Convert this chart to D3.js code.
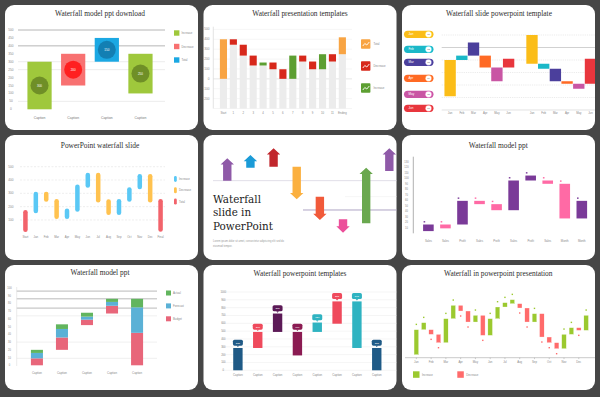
<!DOCTYPE html>
<html>
<head>
<meta charset="utf-8">
<script src="https://cdn.jsdelivr.net/npm/d3@7.9.0/dist/d3.min.js"></script>
<style>
  html, body { margin: 0; padding: 0; background: #464646; }
  svg { display: block; }
</style>
</head>
<body>
<svg id="chart" width="600" height="397" font-family="Liberation Sans, Arial, sans-serif"></svg>
<script>
// ---- data, card 1 : waterfall model ppt download
const c1Cats = ['Caption', 'Caption', 'Caption', 'Caption'];
const c1Low = [0, 150, 300, 100];
const c1High = [300, 350, 450, 350];
const c1Kind = ['up', 'down', 'total', 'up'];
const c1Ticks = [0, 50, 100, 150, 200, 250, 300, 350, 400, 450, 500];
const c1GridDark = [500, 400];
const c1GridLight = [300, 250, 50];
const c1Legend = ['Increase', 'Decrease', 'Total'];

// ---- card 2 : waterfall presentation template
const c2Cats = ['Start', '1', '2', '3', '4', '5', '6', '7', '8', '9', '10', '11', 'Ending'];
const c2Start = [0, 400, 345, 235, 135, 165, 97, 0, 235, 175, 97, 249, 249];
const c2End = [400, 345, 235, 135, 165, 97, 0, 235, 175, 97, 249, 175, 420];
const c2Ticks = [-200, -100, 0, 100, 200, 300, 400, 500];
const c2Legend = ['Total', 'Decrease', 'Increase'];

// ---- card 3 : waterfall slide powerpoint template
const c3Months = ['Jan', 'Feb', 'Mar', 'Apr', 'May', 'Jun'];
const c3Low = [11, 40, 43.5, 34, 23, 34, 37, 33, 23, 21, 17, 21];
const c3High = [40, 43.5, 54, 43.5, 34, 41, 60, 37, 33, 23, 21, 41];
const c3Grid = [10, 20, 30, 40, 50, 60];
const c3Badges = ['08', '12', '15', '09', '05', '11'];

// ---- card 4 : powerpoint waterfall slide
const c4Cats = ['Start', 'Jan', 'Feb', 'Mar', 'Apr', 'May', 'Jun', 'Jul', 'Aug', 'Sep', 'Oct', 'Nov', 'Dec', 'Final'];
const c4Low = [10, 150, 237, 107, 107, 162, 342, 232, 137, 137, 237, 330, 232, 12];
const c4High = [175, 312, 312, 257, 187, 367, 455, 455, 255, 257, 345, 445, 445, 257];
const c4Kind = ['total', 'up', 'down', 'down', 'up', 'up', 'up', 'down', 'down', 'up', 'up', 'up', 'down', 'total'];
const c4Ticks = [100, 200, 300, 400, 500];
const c4Legend = ['Increase', 'Decrease', 'Total'];

// ---- card 5 : arrows
const c5Start = [0, 39, 42, 42, -48, -116, -128, 29];
const c5End = [67, 77, 97, -56, -118, -156, 39, 97];

// ---- card 6 : waterfall model ppt
const c6Cats = ['Sales', 'Sales', 'Profit', 'Sales', 'Profit', 'Sales', 'Profit', 'Sales', 'Month', 'Month'];
const c6Low = [4, 9, 16, 53, 42, 42, 96, 90, 27, 27];
const c6High = [16, 16, 59, 59, 53, 96, 105, 96, 90, 59];
const c6Kind = ['a', 'b', 'a', 'b', 'b', 'a', 'a', 'b', 'b', 'a'];
const c6Ticks = [10, 20, 30, 40, 50, 60, 70, 80, 90, 100, 110, 120, 130];

// ---- card 7 : waterfall model ppt (stacked)
const c7Cats = ['Caption', 'Caption', 'Caption', 'Caption', 'Caption'];
const c7Base = [0, 20, 52, 67, 0];
const c7Red = [9, 16, 7, 10, 42];
const c7Blue = [7, 11, 4, 5, 33];
const c7Green = [4, 6, 5, 4, 11];
const c7Ticks = [0, 10, 20, 30, 40, 50, 60, 70, 80, 90, 100];
const c7GuideDark = [96, 86, 74];
const c7GuideLight = [64, 30, 9];
const c7Legend = ['Actual', 'Forecast', 'Budget'];

// ---- card 8 : waterfall powerpoint templates
const c8Cats = ['Caption', 'Caption', 'Caption', 'Caption', 'Caption', 'Caption', 'Caption', 'Caption'];
const c8Low = [0, 285, 490, 190, 490, 595, 285, 0];
const c8High = [285, 490, 725, 490, 610, 880, 880, 285];
const c8Ticks = [0, 100, 200, 300, 400, 500, 600, 700, 800, 900, 1000];

// ---- card 9 : waterfall in powerpoint presentation
const c9Start = [9, 84, 84, 70, 45, 117, 157, 140, 107, 127, 67, 117, 152, 162, 162, 149, 107, 132, 62, 45, 27, 70, 90, 82];
const c9End = [84, 105, 70, 45, 117, 157, 140, 107, 127, 67, 117, 152, 165, 174, 149, 107, 132, 62, 45, 27, 70, 90, 82, 127];
const c9Months = ['Jan', 'Feb', 'Mar', 'Apr', 'May', 'Jun', 'Jul', 'Aug', 'Sep', 'Oct', 'Nov', 'Dec'];
const c9Legend = ['Increase', 'Decrease'];

// ---- palettes
const pal1 = { up: '#9fc83c', down: '#f87171', total: '#1ba8e3' };
const pal1Dot = { up: '#6f8f27', down: '#ff2020', total: '#137fb3' };
const pal2 = { total: '#f8a443', down: '#d7281b', up: '#5d9f32' };
const pal3 = ['#fbbd18', '#1bb8c8', '#4b3f9c', '#ff6a24', '#c956a4', '#e8363d'];
const pal4 = { up: '#5ac8f5', down: '#ffc24f', total: '#f2636b' };
const pal5 = ['#8f5aa8', '#1b9bd7', '#c1272d', '#fbb040', '#f15a3a', '#ec4f9a', '#6aa84f', '#8f5aa8'];
const pal6 = { a: '#7a3a98', b: '#ff6aa5' };
const pal7 = { red: '#e8667a', blue: '#5bb1d6', green: '#62b55e' };
const pal8 = ['#1f5a86', '#ef4a5c', '#5c1a57', '#8b1b52', '#2fb3c1', '#ef4a5c', '#2fb3c1', '#1f5a86'];
const pal9 = { up: '#9bc92f', down: '#ff6b6b' };

const svg = d3.select('#chart');
svg.append('rect').attr('width', 600).attr('height', 397).attr('fill', '#464646');

const cardX = [5, 203.5, 402];
const cardY = [5, 135, 265];
const cardW = 193, cardH = 125;
const serif = '"Liberation Serif", "DejaVu Serif", serif';

function card(col, row, id) {
  const x = cardX[col], y = cardY[row];
  svg.append('clipPath').attr('id', 'clip' + id)
    .append('rect').attr('x', x).attr('y', y).attr('width', cardW).attr('height', cardH).attr('rx', 9);
  svg.append('rect').attr('x', x).attr('y', y).attr('width', cardW).attr('height', cardH)
    .attr('rx', 9).attr('fill', '#fff');
  return svg.append('g').attr('clip-path', `url(#clip${id})`);
}

function title(g, x, y, txt) {
  g.append('text').attr('x', x).attr('y', y).attr('text-anchor', 'middle')
    .attr('font-family', serif).attr('font-size', 7.4)
    .attr('fill', '#2e2e2e').text(txt);
}

function tiny(g, x, y, txt, anchor = 'middle', fill = '#8a8a8a', size = 3.2) {
  g.append('text').attr('x', x).attr('y', y).attr('text-anchor', anchor)
    .attr('font-size', size).attr('fill', fill).text(txt);
}

function hlines(g, vals, y, x1, x2, color, w, dash) {
  g.selectAll(null).data(vals).enter().append('line')
    .attr('x1', x1).attr('x2', x2)
    .attr('y1', d => y(d)).attr('y2', d => y(d))
    .attr('stroke', color).attr('stroke-width', w)
    .attr('stroke-dasharray', dash || null);
}

// ---------------- card 1
{
  const g = card(0, 0, 1);
  title(g, 100, 16.3, 'Waterfall model ppt download');
  const x = d3.scaleBand().domain(d3.range(c1Cats.length)).range([18, 162]).padding(0.28);
  const y = d3.scaleLinear().domain([0, 500]).range([109.3, 30]);
  hlines(g, c1GridLight, y, 18, 165, '#e4e4e4', 0.7);
  hlines(g, c1GridDark, y, 18, 165, '#a3a3a3', 0.8);
  c1Ticks.forEach(t => tiny(g, 11, y(t) + 1, t));
  const bw = x.bandwidth();
  c1Cats.forEach((c, i) => {
    g.append('rect').attr('x', x(i)).attr('y', y(c1High[i])).attr('width', bw)
      .attr('height', y(c1Low[i]) - y(c1High[i])).attr('fill', pal1[c1Kind[i]]);
    const cy = (y(c1Low[i]) + y(c1High[i])) / 2;
    g.append('circle').attr('cx', x(i) + bw / 2).attr('cy', cy).attr('r', 9).attr('fill', pal1Dot[c1Kind[i]]);
    tiny(g, x(i) + bw / 2, cy + 1, c1High[i] - c1Low[i], 'middle', '#fff', 3);
    tiny(g, x(i) + bw / 2, 118.5, c, 'middle', '#777', 3.4);
  });
  c1Legend.forEach((l, i) => {
    const ly = 33 + i * 13.5;
    g.append('rect').attr('x', 174).attr('y', ly - 2.7).attr('width', 5.4).attr('height', 5.4)
      .attr('fill', pal1[['up', 'down', 'total'][i]]);
    tiny(g, 181.5, ly + 1, l, 'start', '#888', 2.8);
  });
}

// ---------------- card 2
{
  const g = card(1, 0, 2);
  title(g, 300, 15.6, 'Waterfall presentation templates');
  const x = d3.scaleBand().domain(d3.range(c2Cats.length)).range([217.1, 348.7]).padding(0.28);
  const y = d3.scaleLinear().domain([-300, 500]).range([108.5, 29.4]);
  hlines(g, c2Ticks, y, 213.3, 352, '#f0f0f0', 0.6);
  hlines(g, [0], y, 213.3, 352, '#e2e2e2', 0.6);
  g.append('line').attr('x1', 213.3).attr('x2', 213.3).attr('y1', 26.7).attr('y2', 108.5)
    .attr('stroke', '#d8d8d8').attr('stroke-width', 0.7);
  g.append('line').attr('x1', 213.3).attr('x2', 352).attr('y1', 108.5).attr('y2', 108.5)
    .attr('stroke', '#eeeeee').attr('stroke-width', 0.6);
  c2Ticks.forEach(t => tiny(g, 209.5, y(t) + 1, t, 'end'));
  const bw = x.bandwidth();
  c2Cats.forEach((c, i) => {
    const lo = Math.min(c2Start[i], c2End[i]), hi = Math.max(c2Start[i], c2End[i]);
    const kind = (i === 0 || i === c2Cats.length - 1) ? 'total' : (c2End[i] > c2Start[i] ? 'up' : 'down');
    g.append('rect').attr('x', x(i)).attr('y', y(lo)).attr('width', bw)
      .attr('height', y(-300) - y(lo)).attr('fill', '#ececec');
    g.append('rect').attr('x', x(i)).attr('y', y(hi)).attr('width', bw)
      .attr('height', y(lo) - y(hi)).attr('fill', pal2[kind]);
    tiny(g, x(i) + bw / 2, 114, c, 'middle', '#888', 2.8);
  });
  c2Legend.forEach((l, i) => {
    const ly = 44 + i * 22;
    const k = ['total', 'down', 'up'][i];
    g.append('rect').attr('x', 361).attr('y', ly - 4.7).attr('width', 9.4).attr('height', 9.4)
      .attr('rx', 0.8).attr('fill', pal2[k]);
    g.append('path').attr('d', `M${362.8},${ly + 2} l2,-2.5 l2,1.5 l2.5,-3`)
      .attr('fill', 'none').attr('stroke', '#fff').attr('stroke-width', 0.9);
    tiny(g, 373.5, ly + 1, l, 'start', '#888', 2.8);
  });
}

// ---------------- card 3
{
  const g = card(2, 0, 3);
  title(g, 499, 15.6, 'Waterfall slide powerpoint template');
  const x = d3.scaleBand().domain(d3.range(13)).range([444.1, 596.5]).padding(0.03);
  const y = d3.scaleLinear().domain([0, 60]).range([110, 35]);
  hlines(g, c3Grid.filter(d => d !== 50), y, 441.7, 595, '#dedede', 0.6, '1.2,1');
  hlines(g, [50], y, 441.7, 595, '#bdbdbd', 0.7);
  hlines(g, [0], y, 441.7, 595, '#d6d6d6', 0.7);
  const bw = x.bandwidth();
  c3Low.forEach((lo, i) => {
    const slot = i < 6 ? i : i + 1;
    g.append('rect').attr('x', x(slot)).attr('y', y(c3High[i])).attr('width', bw)
      .attr('height', y(lo) - y(c3High[i])).attr('fill', pal3[i % 6]);
    tiny(g, x(slot) + bw / 2, 113.5, c3Months[i % 6], 'middle', '#888', 2.8);
  });
  c3Months.forEach((m, i) => {
    const ly = [34.3, 49.3, 62.3, 78.3, 94.3, 108.3][i];
    g.append('rect').attr('x', 404).attr('y', ly - 3.6).attr('width', 29.5).attr('height', 7.2)
      .attr('rx', 3.6).attr('fill', pal3[i]);
    g.append('circle').attr('cx', 428.5).attr('cy', ly).attr('r', 3.1).attr('fill', '#fff')
      .attr('stroke', d3.color(pal3[i]).brighter(0.6)).attr('stroke-width', 0.6).attr('stroke-dasharray', '0.8,0.6');
    tiny(g, 408.5, ly + 1, m, 'start', '#fff', 3);
    tiny(g, 428.5, ly + 1, c3Badges[i], 'middle', '#666', 2.4);
  });
}

// ---------------- card 4
{
  const g = card(0, 1, 4);
  title(g, 100, 147.8, 'PowerPoint waterfall slide');
  const x = d3.scaleBand().domain(d3.range(c4Cats.length)).range([17.3, 168.7]).padding(0.565);
  const y = d3.scaleLinear().domain([0, 500]).range([233.3, 166.7]);
  hlines(g, c4Ticks, y, 20, 165, '#e2e2e2', 0.6, '2,1.5');
  c4Ticks.forEach(t => tiny(g, 11, y(t) + 1, t));
  const bw = x.bandwidth();
  c4Cats.forEach((c, i) => {
    g.append('rect').attr('x', x(i)).attr('y', y(c4High[i])).attr('width', bw)
      .attr('height', y(c4Low[i]) - y(c4High[i])).attr('rx', bw / 2).attr('fill', pal4[c4Kind[i]]);
    tiny(g, x(i) + bw / 2, 237.5, c, 'middle', '#888', 2.8);
  });
  c4Legend.forEach((l, i) => {
    const ly = 179 + i * 11.3;
    g.append('rect').attr('x', 174).attr('y', ly - 3).attr('width', 2.8).attr('height', 6)
      .attr('rx', 1.4).attr('fill', pal4[['up', 'down', 'total'][i]]);
    tiny(g, 179, ly + 1, l, 'start', '#888', 2.8);
  });
}

// ---------------- card 5
{
  const g = card(1, 1, 5);
  const x = d3.scaleBand().domain(d3.range(c5Start.length)).range([215.7, 400.9]);
  const y = d3.scaleLinear().domain([-160, 100]).range([234, 147.3]);
  g.append('line').attr('x1', 213).attr('x2', 398).attr('y1', y(0)).attr('y2', y(0))
    .attr('stroke', '#d9d6e2').attr('stroke-width', 0.8);
  g.append('line').attr('x1', 303).attr('x2', 397).attr('y1', y(-88)).attr('y2', y(-88))
    .attr('stroke', '#a59bbd').attr('stroke-width', 0.9);
  g.append('line').attr('x1', 345).attr('x2', 397).attr('y1', y(-48)).attr('y2', y(-48))
    .attr('stroke', '#eeeeee').attr('stroke-width', 0.6);
  const sw = 4.2, hw = 6.7, hl = 6.3;
  c5Start.forEach((s, i) => {
    const cx = x(i) + x.bandwidth() / 2;
    const y0 = y(s), y1 = y(c5End[i]);
    const dir = Math.sign(y1 - y0);
    const hy = y1 - dir * hl;
    const d = `M${cx - sw},${y0} L${cx - sw},${hy} L${cx - hw},${hy} L${cx},${y1} L${cx + hw},${hy} L${cx + sw},${hy} L${cx + sw},${y0} Z`;
    g.append('path').attr('d', d).attr('fill', pal5[i]);
  });
  ['Waterfall', 'slide in', 'PowerPoint'].forEach((t, i) => {
    g.append('text').attr('x', 213).attr('y', [202.8, 216.2, 229.6][i])
      .attr('font-family', '"DejaVu Serif", serif').attr('font-size', 10.4)
      .attr('fill', '#222').text(t);
  });
  tiny(g, 213, 241.8, 'Lorem ipsum dolor sit amet, consectetur adipiscing elit sed do', 'start', '#999', 2.6);
  tiny(g, 213, 246.6, 'eiusmod tempor.', 'start', '#999', 2.6);
}

// ---------------- card 6
{
  const g = card(2, 1, 6);
  title(g, 498.3, 147.5, 'Waterfall model ppt');
  const x = d3.scaleBand().domain(d3.range(c6Cats.length)).range([416.65, 593.55]).padding(0.378);
  const y = d3.scaleLinear().domain([0, 130]).range([233.3, 161.8]);
  g.append('line').attr('x1', 413.3).attr('x2', 413.3).attr('y1', 156.7).attr('y2', 233.3)
    .attr('stroke', '#a8a8a8').attr('stroke-width', 0.9);
  c6Ticks.forEach(t => tiny(g, 406.5, y(t) + 1, t, 'middle', '#8a8a8a', 2.6));
  const bw = x.bandwidth();
  c6Cats.forEach((c, i) => {
    const col = pal6[c6Kind[i]];
    g.append('rect').attr('x', x(i)).attr('y', y(c6High[i])).attr('width', bw)
      .attr('height', y(c6Low[i]) - y(c6High[i])).attr('fill', col);
    g.append('rect').attr('x', x(i) + 0.5).attr('y', y(c6High[i]) - 3.4).attr('width', 1.6)
      .attr('height', 1.4).attr('fill', col);
    tiny(g, x(i) + bw / 2, 242.3, c, 'middle', '#888', 2.8);
  });
}

// ---------------- card 7
{
  const g = card(0, 2, 7);
  title(g, 100, 275, 'Waterfall model ppt');
  const x = d3.scaleBand().domain(d3.range(c7Cats.length)).range([17.9, 156.1]).padding(0.52);
  const y = d3.scaleLinear().domain([0, 100]).range([365.3, 288]);
  hlines(g, c7GuideLight, y, 16.7, 157, '#e6e6e6', 0.6);
  hlines(g, c7GuideDark, y, 16.7, 157, '#a8a8a8', 0.8);
  g.append('line').attr('x1', 16.7).attr('x2', 16.7).attr('y1', 287).attr('y2', 366)
    .attr('stroke', '#dddddd').attr('stroke-width', 0.6);
  c7Ticks.forEach(t => tiny(g, 9.5, y(t) + 1, t, 'middle', '#8a8a8a', 2.6));
  const bw = x.bandwidth();
  c7Cats.forEach((c, i) => {
    let acc = c7Base[i];
    [[c7Red, 'red'], [c7Blue, 'blue'], [c7Green, 'green']].forEach(([arr, k]) => {
      g.append('rect').attr('x', x(i)).attr('y', y(acc + arr[i])).attr('width', bw)
        .attr('height', y(acc) - y(acc + arr[i])).attr('fill', pal7[k]);
      acc += arr[i];
    });
    tiny(g, x(i) + bw / 2, 374, c, 'middle', '#888', 2.9);
  });
  c7Legend.forEach((l, i) => {
    const ly = 293 + i * 12.9;
    g.append('rect').attr('x', 166).attr('y', ly - 2.5).attr('width', 5).attr('height', 5)
      .attr('fill', pal7[['green', 'blue', 'red'][i]]);
    tiny(g, 173, ly + 1, l, 'start', '#888', 2.8);
  });
}

// ---------------- card 8
{
  const g = card(1, 2, 8);
  title(g, 300, 275.8, 'Waterfall powerpoint templates');
  const x = d3.scaleBand().domain(d3.range(c8Cats.length)).range([222.76, 391.9]).padding(0.527);
  const y = d3.scaleLinear().domain([0, 1000]).range([370.3, 292]);
  hlines(g, c8Ticks, y, 221.7, 396.7, '#eeeeee', 0.6);
  c8Ticks.forEach(t => tiny(g, 223.3, y(t) + 1, t, 'middle', '#8a8a8a', 2.6));
  const bw = x.bandwidth();
  c8Cats.forEach((c, i) => {
    const col = pal8[i];
    const top = y(c8High[i]);
    g.append('rect').attr('x', x(i)).attr('y', top).attr('width', bw)
      .attr('height', y(c8Low[i]) - top).attr('fill', col);
    const bx = x(i) - 0.3, by = top - 8.3;
    g.append('rect').attr('x', bx).attr('y', by).attr('width', bw + 0.6).attr('height', 6)
      .attr('rx', 1.6).attr('fill', col);
    const cx = x(i) + bw / 2;
    g.append('path').attr('d', `M${cx - 1.3},${by + 5.9} L${cx + 1.3},${by + 5.9} L${cx},${by + 7.4} Z`).attr('fill', col);
    tiny(g, cx, by + 4, c8High[i] - c8Low[i], 'middle', '#fff', 2.5);
    tiny(g, cx, 376.3, c, 'middle', '#888', 2.8);
  });
}

// ---------------- card 9
{
  const g = card(2, 2, 9);
  title(g, 498.3, 275.8, 'Waterfall in powerpoint presentation');
  const x = d3.scaleBand().domain(d3.range(c9Start.length)).range([411.25, 591.25]).padding(0.38);
  const y = d3.scaleLinear().domain([0, 200]).range([357.7, 291]);
  g.append('line').attr('x1', 405).attr('x2', 595).attr('y1', y(0)).attr('y2', y(0))
    .attr('stroke', '#c4c4c4').attr('stroke-width', 0.9);
  const bw = x.bandwidth();
  c9Start.forEach((s, i) => {
    const e = c9End[i];
    const up = e > s;
    const col = pal9[up ? 'up' : 'down'];
    const hi = Math.max(s, e), lo = Math.min(s, e);
    g.append('rect').attr('x', x(i)).attr('y', y(hi)).attr('width', bw)
      .attr('height', y(lo) - y(hi)).attr('fill', col)
      .attr('stroke', '#fff').attr('stroke-width', 0.3);
    const dy = up ? y(hi) - 5.3 : y(lo) + 5;
    g.append('rect').attr('x', x(i) + bw / 2 - 0.7).attr('y', dy - 0.7).attr('width', 1.4)
      .attr('height', 1.4).attr('fill', col);
    if (i % 2 === 0) {
      const cx = x(i) + bw / 2;
      g.append('line').attr('x1', cx).attr('x2', cx).attr('y1', y(0)).attr('y2', y(0) + 1.4)
        .attr('stroke', '#aaa').attr('stroke-width', 0.6);
      tiny(g, cx, 362.5, c9Months[i / 2], 'middle', '#888', 2.8);
    }
  });
  c9Legend.forEach((l, i) => {
    const lx = [413, 457.3][i];
    g.append('rect').attr('x', lx).attr('y', 371.3).attr('width', 6.5).attr('height', 6.5)
      .attr('fill', pal9[i === 0 ? 'up' : 'down']);
    tiny(g, lx + 9, 375.6, l, 'start', '#888', 2.8);
  });
}
</script>
</body>
</html>
